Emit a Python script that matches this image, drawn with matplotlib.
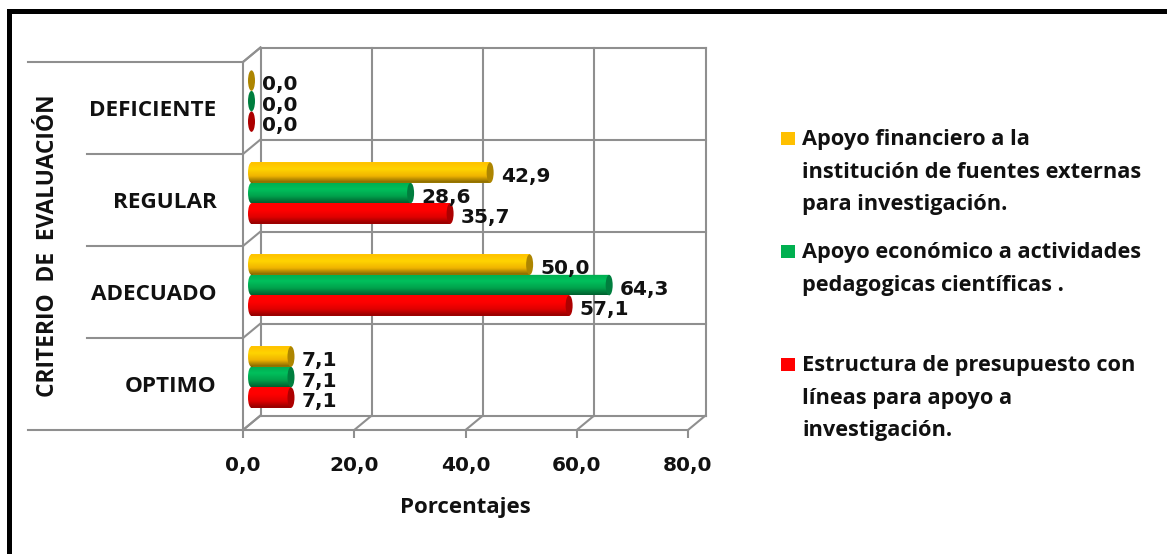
import matplotlib
matplotlib.use('Agg')
import matplotlib.pyplot as plt
import numpy as np
from matplotlib.colors import LinearSegmentedColormap
from matplotlib.lines import Line2D
from matplotlib.patches import Ellipse, Rectangle
from matplotlib.path import Path

categories = ['OPTIMO', 'ADECUADO', 'REGULAR', 'DEFICIENTE']
estructura = [7.1, 57.1, 35.7, 0.0]
apoyo_economico = [7.1, 64.3, 28.6, 0.0]
apoyo_financiero = [7.1, 50.0, 42.9, 0.0]
x_ticks = [0, 20, 40, 60, 80]

legend_labels = [
    'Apoyo financiero a la\ninstitución de fuentes externas\npara investigación.',
    'Apoyo económico a actividades\npedagogicas científicas .',
    'Estructura de presupuesto con\nlíneas para apoyo a\ninvestigación.',
]

plt.rcParams['font.family'] = ['Open Sans', 'DejaVu Sans']
plt.rcParams['font.weight'] = 'bold'
plt.rcParams['axes.labelweight'] = 'bold'

W, H = 1167, 554
fig = plt.figure(figsize=(W / 100, H / 100), dpi=100)
ax = fig.add_axes([243 / W, (H - 430) / H, 445 / W, 368 / H])
ax.set_xlim(0, 80)
ax.set_ylim(-0.5, 3.5)

PX_X = 80 / 445   # data units for one pixel
PX_Y = 4 / 368
DX = 17.5 * PX_X  # depth of the fake 3d box
DY = 14.5 * PX_Y
GRID = '#8f8f8f'
LW = 1.5
INK = '#111111'


def wall_line(xs, ys):
    ax.add_line(Line2D(xs, ys, color=GRID, lw=LW, clip_on=False, zorder=1))


# back wall, floor and left wall
for t in x_ticks:
    wall_line([t + DX, t + DX], [-0.5 + DY, 3.5 + DY])
    wall_line([t, t + DX], [-0.5, -0.5 + DY])
wall_line([0, 0], [-0.5, 3.5])
wall_line([0, DX], [3.5, 3.5 + DY])
wall_line([0, 80], [-0.5, -0.5])
for b in [-0.5, 0.5, 1.5, 2.5, 3.5]:
    wall_line([DX, 80 + DX], [b + DY, b + DY])
    wall_line([0, DX], [b, b + DY])
    left = -215 * PX_X if b in (-0.5, 3.5) else -156 * PX_X
    wall_line([left, 0], [b, b])

# cylinders
series = [
    (estructura, -0.223, ['#ff0000', '#ff0000', '#e00000', '#8c0000'], '#ac0000'),
    (apoyo_economico, 0.0, ['#00ad50', '#00c05c', '#00a24c', '#005f2e'], '#007e3e'),
    (apoyo_financiero, 0.223, ['#ffbf00', '#ffd400', '#f0b400', '#7f6200'], '#ad8500'),
]
bar_h = 0.223
cap_w = 7 * PX_X
shift = 8.5 * PX_X
for values, off, stops, cap in series:
    cmap = LinearSegmentedColormap.from_list('cyl', stops)
    grad = np.linspace(0, 1, 64).reshape(-1, 1)
    for i, v in enumerate(values):
        yc = i + 0.075 + off
        if v > 0:
            bars = ax.barh(yc, v, height=bar_h, left=shift, color=stops[1], lw=0, zorder=3)
            left_cap = Ellipse((shift, yc), cap_w, bar_h, transform=ax.transData)
            shape = Path.make_compound_path(
                bars[0].get_path().transformed(bars[0].get_patch_transform()),
                left_cap.get_path().transformed(left_cap.get_patch_transform()),
            )
            im = ax.imshow(grad, cmap=cmap, aspect='auto', zorder=4, origin='upper',
                           extent=[shift - cap_w, shift + v, yc - bar_h / 2, yc + bar_h / 2])
            im.set_clip_path(shape, transform=ax.transData)
        ax.add_patch(Ellipse((shift + v, yc), cap_w, bar_h, color=cap, lw=0, zorder=5))
        ax.annotate(f'{v:.1f}'.replace('.', ','), (v, yc), xytext=(19, -4),
                    textcoords='offset pixels', ha='left', va='center',
                    fontsize=14.5, family='DejaVu Sans', color=INK, zorder=6,
                    annotation_clip=False)

ax.set_xlim(0, 80)
ax.set_ylim(-0.5, 3.5)
for s in ax.spines.values():
    s.set_visible(False)
ax.patch.set_visible(False)

ax.set_xticks(x_ticks)
ax.set_xticklabels([f'{t:.1f}'.replace('.', ',') for t in x_ticks], fontsize=14.5,
                   family='DejaVu Sans', color=INK)
ax.tick_params(axis='x', length=5.5, width=LW, color=GRID, pad=13)
ax.set_yticks(range(len(categories)))
ax.set_yticklabels(categories, fontsize=16.2, color=INK)
ax.tick_params(axis='y', length=0, pad=19)
ax.set_xlabel('Porcentajes', fontsize=16, color=INK, labelpad=16)
ax.set_ylabel('CRITERIO  DE  EVALUACIÓN', fontsize=16.4, color=INK)
ax.yaxis.set_label_coords(-183 / 445, 0.5)

# legend, laid out by hand because the spacing is uneven
legend_colors = ['#ffc000', '#00b050', '#ff0000']
legend_tops = [138, 251, 364]
for label, c, yp in zip(legend_labels, legend_colors, legend_tops):
    fig.patches.append(Rectangle((781 / W, 1 - (yp + 7) / H), 14 / W, 13 / H,
                                 color=c, lw=0, transform=fig.transFigure))
    fig.text(802 / W, 1 - (yp - 9) / H, label, fontsize=15.7, color=INK,
             ha='left', va='top', linespacing=1.72)

# black frame
fig.patches.append(Rectangle((7 / W, 0), 4.5 / W, 1 - 10 / H, color='black', lw=0,
                             transform=fig.transFigure))
fig.patches.append(Rectangle((7 / W, 1 - 14 / H), 1 - 7 / W, 4.5 / H, color='black', lw=0,
                             transform=fig.transFigure))

fig.savefig('out.png', dpi=100)
